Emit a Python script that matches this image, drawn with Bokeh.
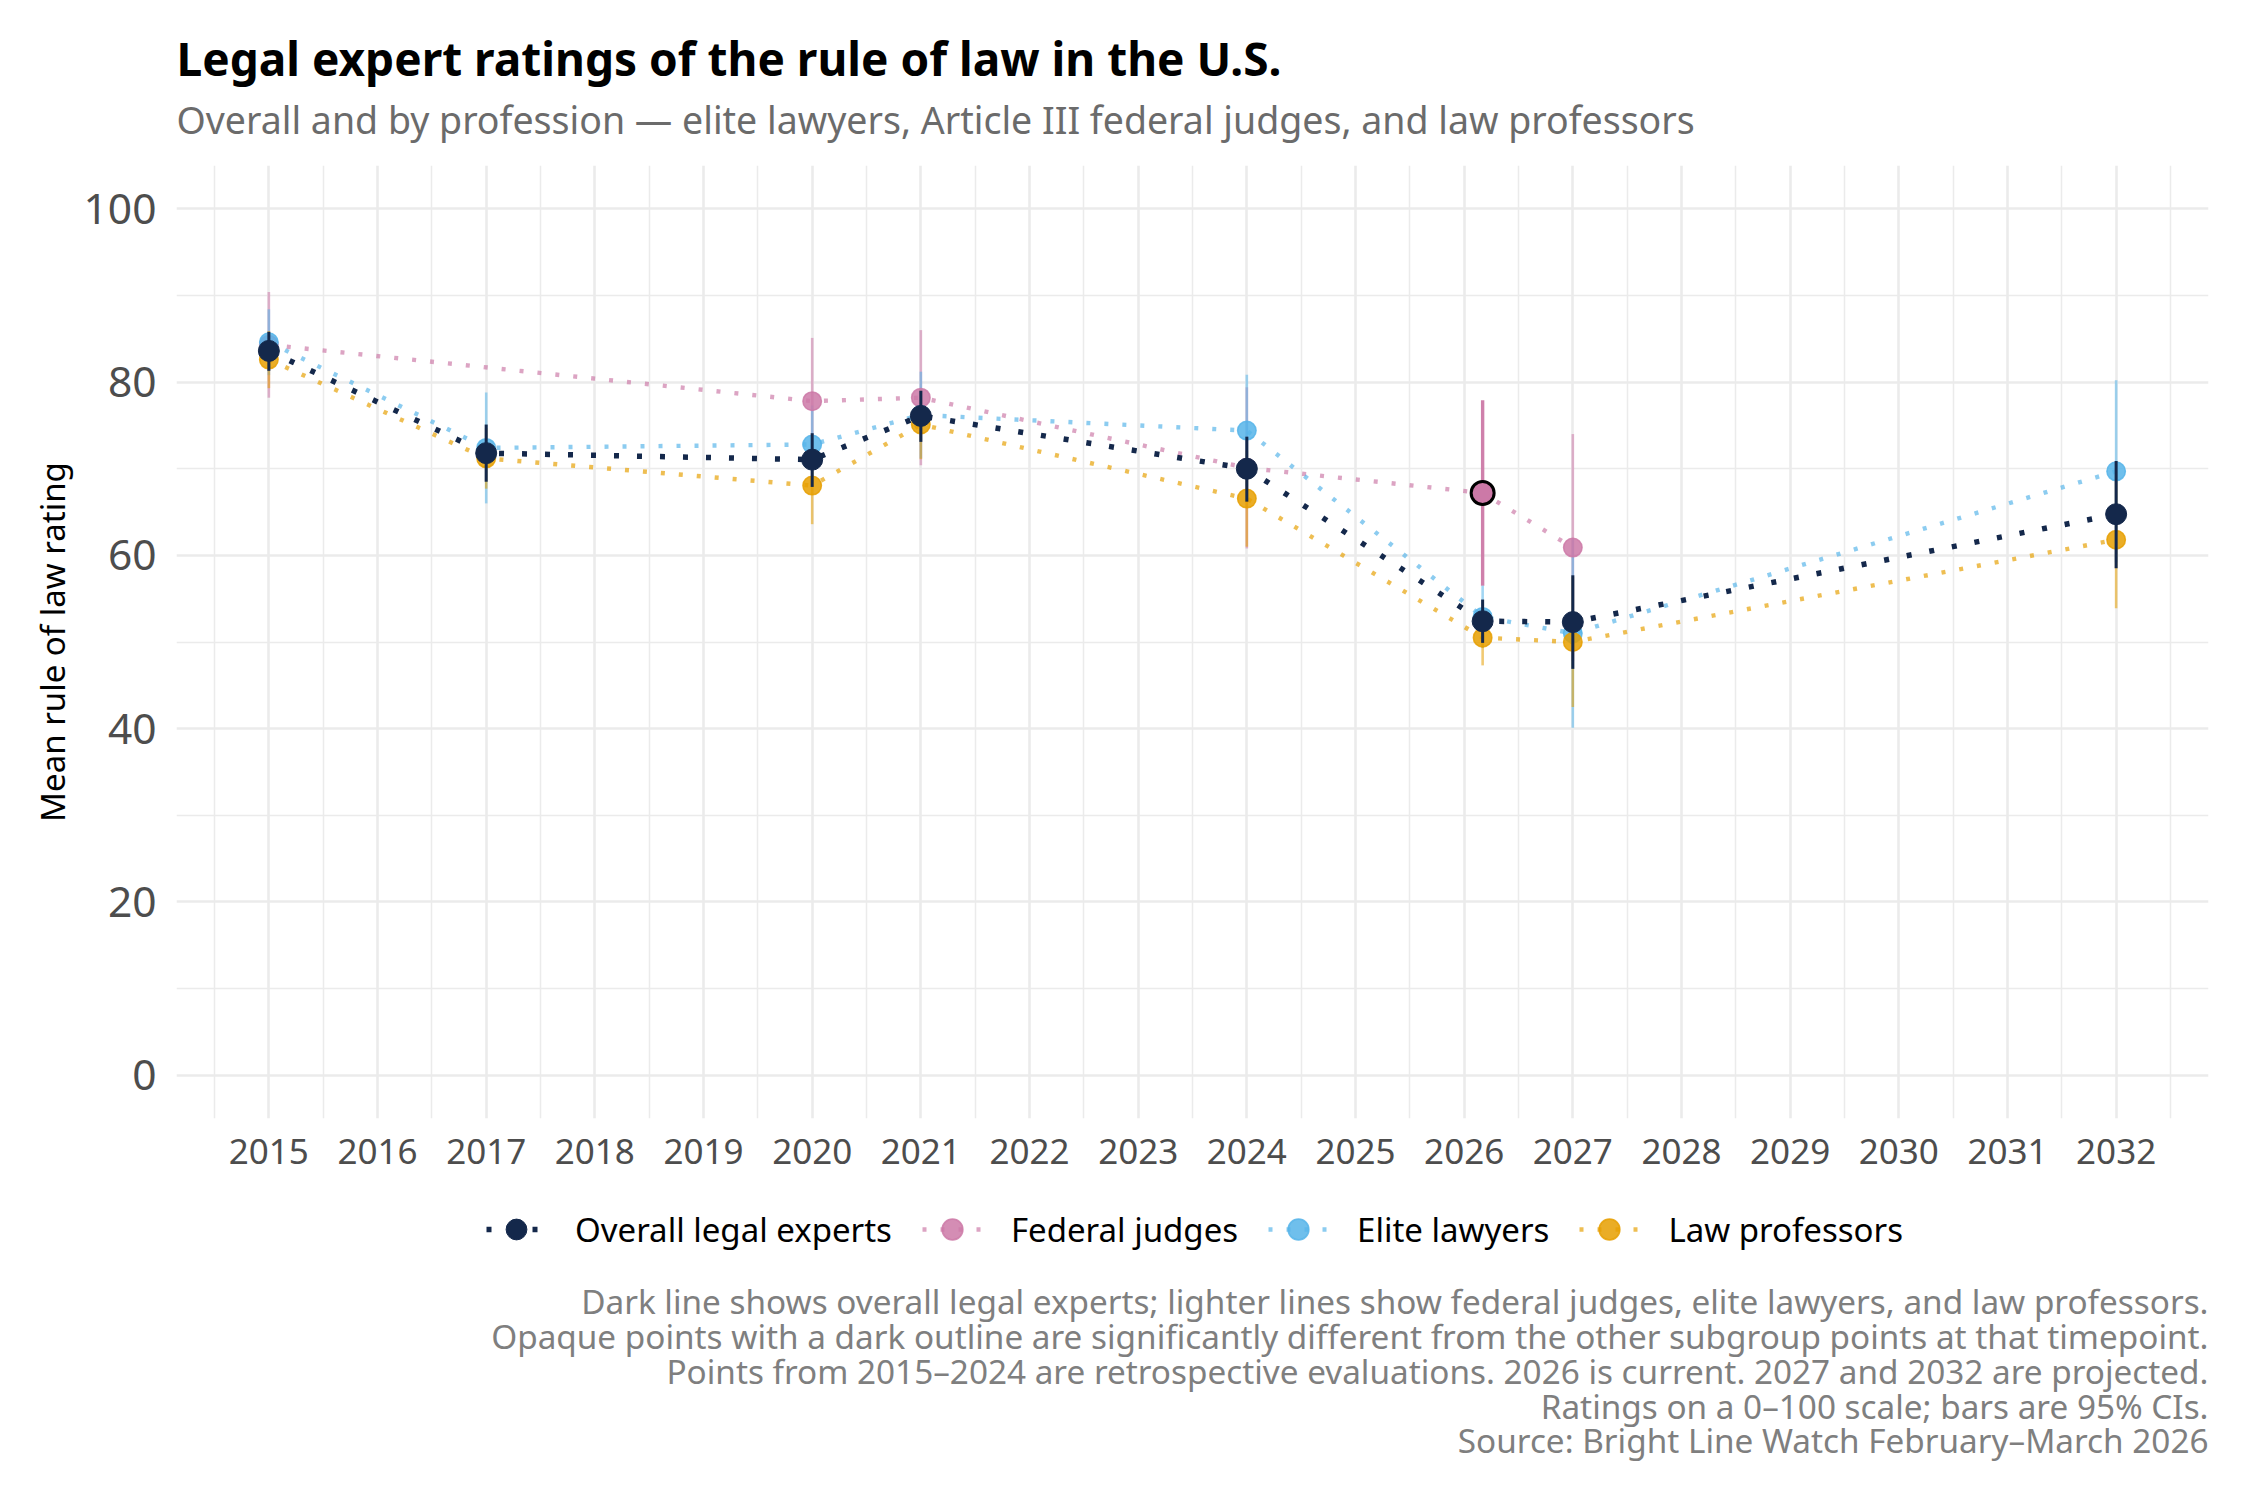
from bokeh.plotting import figure
from bokeh.models import (ColumnDataSource, FixedTicker, Legend, LegendItem, Label, Range1d)
from bokeh.layouts import column
from bokeh.embed import file_html
from bokeh.resources import INLINE

FONT = "Noto Sans"
NAN = float("nan")

# ---------------- data ----------------
year_ticks = list(range(2015, 2033))
year_minor = [y + 0.5 for y in range(2014, 2033)]
y_ticks = [0, 20, 40, 60, 80, 100]
y_minor = [10, 30, 50, 70, 90]

survey_x = [2015, 2017, 2020, 2021, 2024, 2026.17, 2027, 2032]

overall_mean = [83.6, 71.8, 71.05, 76.1, 70.0, 52.4, 52.3, 64.75]
overall_lo = [81.3, 68.5, 67.9, 73.1, 66.2, 49.9, 46.9, 58.5]
overall_hi = [85.8, 75.1, 74.1, 79.0, 73.7, 54.9, 57.7, 70.9]

judges_x = [2015, 2020, 2021, 2024, 2026.17, 2027]
judges_mean = [84.3, 77.8, 78.2, 70.1, 67.2, 60.9]
judges_lo = [78.2, 70.5, 70.4, 60.8, 56.5, 47.8]
judges_hi = [90.4, 85.1, 86.0, 79.4, 77.9, 74.0]
judges_sig = [False, False, False, False, True, False]

elite_x = [2015, 2017, 2020, 2021, 2024, 2026.17, 2027, 2032]
elite_mean = [84.6, 72.4, 72.8, 76.2, 74.4, 52.9, 51.0, 69.7]
elite_lo = [80.8, 66.0, 68.3, 71.2, 67.95, 49.3, 40.1, 59.2]
elite_hi = [88.4, 78.8, 77.3, 81.2, 80.85, 56.5, 61.9, 80.2]
elite_sig = [False] * 8

prof_x = [2015, 2017, 2020, 2021, 2024, 2026.17, 2027, 2032]
prof_mean = [82.6, 71.2, 68.05, 75.1, 66.55, 50.5, 50.0, 61.8]
prof_lo = [79.3, 67.7, 63.6, 71.1, 61.0, 47.3, 42.5, 53.9]
prof_hi = [85.9, 74.7, 72.5, 79.1, 72.1, 53.7, 57.5, 69.7]
prof_sig = [False] * 8

series_names = ["Overall legal experts", "Federal judges", "Elite lawyers", "Law professors"]
colors = {"Overall legal experts": "#14284B", "Federal judges": "#CC79A7",
          "Elite lawyers": "#56B4E9", "Law professors": "#E69F00"}

title_text = "Legal expert ratings of the rule of law in the U.S."
subtitle_text = "Overall and by profession \u2014 elite lawyers, Article III federal judges, and law professors"
caption_lines = [
    "Dark line shows overall legal experts; lighter lines show federal judges, elite lawyers, and law professors.",
    "Opaque points with a dark outline are significantly different from the other subgroup points at that timepoint.",
    "Points from 2015\u20132024 are retrospective evaluations. 2026 is current. 2027 and 2032 are projected.",
    "Ratings on a 0\u2013100 scale; bars are 95% CIs.",
    "Source: Bright Line Watch February\u2013March 2026",
]
y_label = "Mean rule of law rating"

# ---------------- layout constants (pixels) ----------------
FRAME_W = 2032
LEFT, RIGHT = 176, 33
HEAD_H = 165          # header strip (title + subtitle)
FRAME_H = 953         # plotting panel
AXIS_H = 70           # x-axis strip
FOOT_H = 290          # legend + caption strip
TITLE_Y, SUBTITLE_Y = 108, 46
LEGEND_POS = (310, 223)
CAPTION_Y = [178, 143, 108, 73, 39]


def blank(h):
    f = figure(frame_width=FRAME_W, frame_height=h, output_backend="svg", toolbar_location=None,
               x_axis_location=None, y_axis_location=None, x_range=Range1d(0, 1), y_range=Range1d(0, 1),
               min_border_left=LEFT, min_border_right=RIGHT, min_border_top=0, min_border_bottom=0,
               background_fill_color="white", border_fill_color="white")
    f.outline_line_color = None
    f.title = None
    f.grid.visible = False
    return f


# ---------------- header ----------------
head = blank(HEAD_H)
head.add_layout(Label(x=0, y=TITLE_Y, x_units="screen", y_units="screen", text=title_text,
                      text_font=FONT, text_font_size="46px", text_font_style="bold",
                      text_color="black", text_align="left", text_baseline="alphabetic"))
head.add_layout(Label(x=0, y=SUBTITLE_Y, x_units="screen", y_units="screen", text=subtitle_text,
                      text_font=FONT, text_font_size="37.5px", text_color="#6B6B6B",
                      text_align="left", text_baseline="alphabetic"))

# ---------------- main plot ----------------
p = figure(frame_width=FRAME_W, frame_height=FRAME_H, output_backend="svg", toolbar_location=None,
           x_range=(2014.15, 2032.85), y_range=(-5, 105),
           min_border_left=LEFT, min_border_right=RIGHT, min_border_top=0, min_border_bottom=AXIS_H,
           background_fill_color="white", border_fill_color="white")
p.outline_line_color = None
p.title = None

xt = FixedTicker(ticks=year_ticks, minor_ticks=year_minor)
yt = FixedTicker(ticks=y_ticks, minor_ticks=y_minor)
p.xaxis.ticker = xt
p.yaxis.ticker = yt
p.xgrid.ticker = xt
p.ygrid.ticker = yt
for g in (p.xgrid, p.ygrid):
    g.grid_line_color = "#EBEBEB"
    g.grid_line_width = 2.6
    g.minor_grid_line_color = "#EBEBEB"
    g.minor_grid_line_width = 1.5

for ax in (p.xaxis, p.yaxis):
    ax.axis_line_color = None
    ax.major_tick_line_color = None
    ax.minor_tick_line_color = None
    ax.major_label_text_font = FONT
    ax.major_label_text_color = "#4D4D4D"
p.xaxis.major_label_text_font_size = "35px"
p.xaxis.major_label_standoff = 14
p.yaxis.major_label_text_font_size = "42.5px"
p.yaxis.major_label_standoff = 14
p.yaxis.axis_label = y_label
p.yaxis.axis_label_text_font = FONT
p.yaxis.axis_label_text_font_size = "33px"
p.yaxis.axis_label_text_font_style = "normal"
p.yaxis.axis_label_text_color = "black"
p.yaxis.axis_label_standoff = 6

sub = [
    ("Federal judges", judges_x, judges_mean, judges_lo, judges_hi, judges_sig),
    ("Elite lawyers", elite_x, elite_mean, elite_lo, elite_hi, elite_sig),
    ("Law professors", prof_x, prof_mean, prof_lo, prof_hi, prof_sig),
]

SUB_LINE = dict(line_alpha=0.68, line_width=4.4, line_dash="4 14")
SUB_PT = dict(size=18.5, fill_alpha=0.85, line_alpha=0.85, line_width=1.5)
OV_LINE = dict(line_width=5.5, line_dash="5 18")
OV_PT = dict(size=21, line_width=1)

for name, xs, m, lo, hi, sig in sub:
    c = colors[name]
    ns = ColumnDataSource(dict(x=[x for x, s in zip(xs, sig) if not s],
                               lo=[v for v, s in zip(lo, sig) if not s],
                               hi=[v for v, s in zip(hi, sig) if not s]))
    p.segment(x0="x", y0="lo", x1="x", y1="hi", source=ns, line_color=c,
              line_alpha=0.55, line_width=2.6)
    if any(sig):
        ss = ColumnDataSource(dict(x=[x for x, s in zip(xs, sig) if s],
                                   lo=[v for v, s in zip(lo, sig) if s],
                                   hi=[v for v, s in zip(hi, sig) if s]))
        p.segment(x0="x", y0="lo", x1="x", y1="hi", source=ss, line_color=c,
                  line_alpha=0.95, line_width=3.4)

for name, xs, m, lo, hi, sig in sub:
    p.line(xs, m, line_color=colors[name], **SUB_LINE)

for name, xs, m, lo, hi, sig in sub:
    c = colors[name]
    ns = ColumnDataSource(dict(x=[x for x, s in zip(xs, sig) if not s],
                               y=[v for v, s in zip(m, sig) if not s]))
    p.scatter("x", "y", source=ns, fill_color=c, line_color=c, **SUB_PT)

osrc = ColumnDataSource(dict(x=survey_x, y=overall_mean, lo=overall_lo, hi=overall_hi))
oc = colors["Overall legal experts"]
p.segment(x0="x", y0="lo", x1="x", y1="hi", source=osrc, line_color=oc, line_width=3)
p.line("x", "y", source=osrc, line_color=oc, **OV_LINE)
p.scatter("x", "y", source=osrc, fill_color=oc, line_color=oc, **OV_PT)

for name, xs, m, lo, hi, sig in sub:
    if any(sig):
        c = colors[name]
        ss = ColumnDataSource(dict(x=[x for x, s in zip(xs, sig) if s],
                                   y=[v for v, s in zip(m, sig) if s]))
        p.scatter("x", "y", source=ss, size=23, fill_color=c, fill_alpha=1.0,
                  line_color="black", line_width=3)

# ---------------- footer: legend + caption ----------------
foot = blank(FOOT_H)
items = []
for n in series_names:
    c = colors[n]
    src = ColumnDataSource(dict(x=[NAN], y=[NAN]))   # legend keys only, nothing drawn
    if n == "Overall legal experts":
        lr = foot.line("x", "y", source=src, line_color=c, **OV_LINE)
        sr = foot.scatter("x", "y", source=src, fill_color=c, line_color=c, **OV_PT)
    else:
        lr = foot.line("x", "y", source=src, line_color=c, **SUB_LINE)
        sr = foot.scatter("x", "y", source=src, fill_color=c, line_color=c, **SUB_PT)
    items.append(LegendItem(label=n, renderers=[lr, sr]))
legend = Legend(items=items, orientation="horizontal", location=LEGEND_POS,
                glyph_width=60, glyph_height=52, label_standoff=29, spacing=30,
                label_text_font=FONT, label_text_font_size="33px", label_text_color="black",
                border_line_color=None, background_fill_alpha=0, margin=0, padding=0)
foot.add_layout(legend, "center")

for line, yy in zip(caption_lines, CAPTION_Y):
    foot.add_layout(Label(x=FRAME_W, y=yy, x_units="screen", y_units="screen", text=line,
                          text_font=FONT, text_font_size="33.3px", text_color="#7F7F7F",
                          text_align="right", text_baseline="alphabetic"))

page = column(head, p, foot, spacing=0)
open("out.html", "w").write(file_html(page, INLINE))
